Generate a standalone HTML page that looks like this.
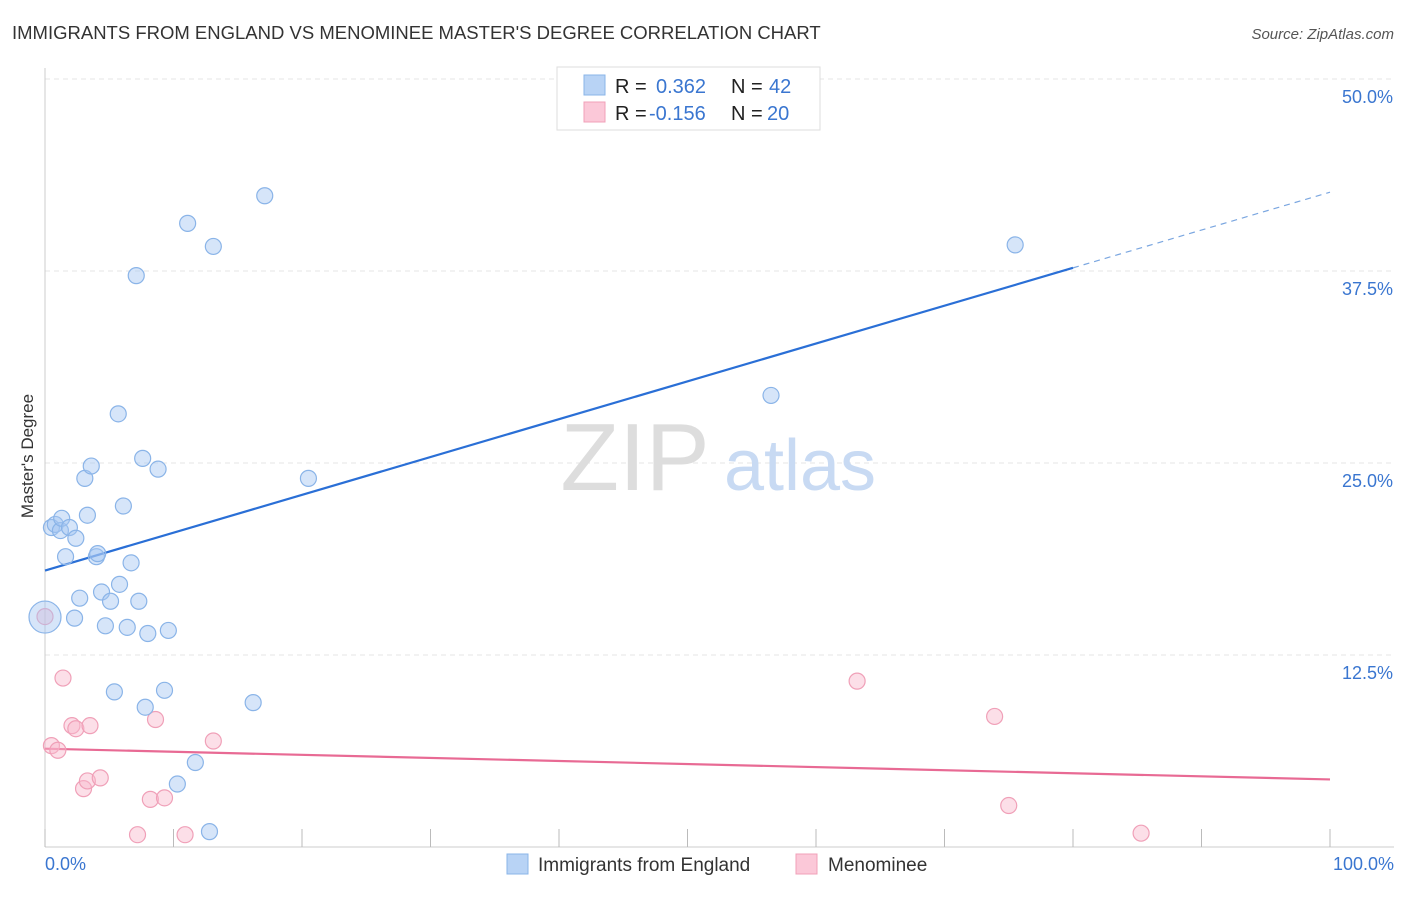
<!DOCTYPE html>
<html><head><meta charset="utf-8"><style>
body{margin:0;background:#fff;font-family:"Liberation Sans",sans-serif;}
svg text{font-family:"Liberation Sans",sans-serif;}
</style></head><body>
<svg id="chart" width="1406" height="892">
<text x="12" y="39" font-size="18.5" fill="#333">IMMIGRANTS FROM ENGLAND VS MENOMINEE MASTER'S DEGREE CORRELATION CHART</text>
<text x="1394" y="39" font-size="15" fill="#555" font-style="italic" text-anchor="end">Source: ZipAtlas.com</text>
<text transform="translate(33,456) rotate(-90)" font-size="17" fill="#333" text-anchor="middle">Master's Degree</text>
<g id="grid"></g>
<text x="635" y="490" font-size="96" fill="#ddd" font-family="Liberation Serif" text-anchor="middle">ZIP</text>
<text x="800" y="490" font-size="72" fill="#c8daf3" text-anchor="middle">atlas</text>
<g id="trend"></g>
<g id="points"></g>
<g>
<rect x="557" y="67" width="263" height="63" fill="#fff" stroke="#ddd"/>
<rect x="584" y="75" width="21" height="20" fill="#b8d3f5" stroke="#8ab4e8"/>
<rect x="584" y="102" width="21" height="20" fill="#fbc8d8" stroke="#f0a0b8"/>
<text x="615" y="93" font-size="20" fill="#222">R =</text>
<text x="656" y="93" font-size="20" fill="#3a76d0">0.362</text>
<text x="731" y="93" font-size="20" fill="#222">N =</text>
<text x="769" y="93" font-size="20" fill="#3a76d0">42</text>
<text x="615" y="120" font-size="20" fill="#222">R =</text>
<text x="649" y="120" font-size="20" fill="#3a76d0">-0.156</text>
<text x="731" y="120" font-size="20" fill="#222">N =</text>
<text x="767" y="120" font-size="20" fill="#3a76d0">20</text>
</g>
<g>
<rect x="507" y="854" width="21" height="20" fill="#b8d3f5" stroke="#8ab4e8"/>
<text x="538" y="871" font-size="19" fill="#333">Immigrants from England</text>
<rect x="796" y="854" width="21" height="20" fill="#fbc8d8" stroke="#f0a0b8"/>
<text x="828" y="871" font-size="19" fill="#333">Menominee</text>
</g>
<text x="45" y="870" font-size="18" fill="#3a76d0">0.0%</text>
<text x="1394" y="870" font-size="18" fill="#3a76d0" text-anchor="end">100.0%</text>
</svg>
<script>
const yTicks=[12.5,25,37.5,50];
const yTickLabels=["12.5%","25.0%","37.5%","50.0%"];
const xTicks=[0,10,20,30,40,50,60,70,80,90,100];
const blueX=[0,0.5,0.8,1.2,1.3,1.9,1.6,2.4,3.1,3.3,3.6,2.3,2.7,4.0,4.1,4.4,4.7,5.1,5.4,5.7,5.8,6.1,6.4,6.7,7.1,7.3,7.6,7.8,8.0,8.8,9.3,9.6,10.3,11.1,11.7,12.8,13.1,16.2,17.1,20.5,56.5,75.5];
const blueY=[14.97,20.8,21.0,20.6,21.4,20.8,18.9,20.1,24.0,21.6,24.8,14.9,16.2,18.9,19.1,16.6,14.4,16.0,10.1,28.2,17.1,22.2,14.3,18.5,37.2,16.0,25.3,9.1,13.9,24.6,10.2,14.1,4.1,40.6,5.5,1.0,39.1,9.4,42.4,24.0,29.4,39.2];
const pinkX=[0,0.5,1.0,1.4,2.1,2.4,3.0,3.3,3.5,4.3,7.2,8.2,8.6,9.3,10.9,13.1,63.2,73.9,75.0,85.3];
const pinkY=[15.0,6.6,6.3,11.0,7.9,7.7,3.8,4.3,7.9,4.5,0.8,3.1,8.3,3.2,0.8,6.9,10.8,8.5,2.7,0.9];
const blueTrend=[18.0,0.2463];
const pinkTrend=[6.4,-0.02];
const X=v=>45+v*12.85, Y=v=>847-v*15.36;
const NS="http://www.w3.org/2000/svg";
function mk(tag,attrs,parent){const e=document.createElementNS(NS,tag);for(const k in attrs)e.setAttribute(k,attrs[k]);parent.appendChild(e);return e;}
const grid=document.getElementById('grid');
yTicks.forEach((t,i)=>{
 const l=mk('line',{x1:45,x2:1394,y1:Y(t),y2:Y(t),stroke:'#e4e4e4','stroke-dasharray':'5,4'},grid);
 
 
 const tx=mk('text',{x:1393,y:Y(t)+24,'font-size':18,fill:'#3a76d0','text-anchor':'end'},grid);
 tx.textContent=yTickLabels[i];
 
 
});
const ax=mk('line',{x1:45,x2:45,y1:68,y2:847,stroke:'#ccc'},grid);


const bx=mk('line',{x1:45,x2:1394,y1:847,y2:847,stroke:'#ccc'},grid);


xTicks.forEach(t=>{
 const l=mk('line',{x1:X(t),x2:X(t),y1:829,y2:847,stroke:'#bbb'},grid);
 
 
});
const tr=document.getElementById('trend');
let l1=mk('line',{x1:X(0),y1:Y(blueTrend[0]),x2:X(80),y2:Y(blueTrend[0]+80*blueTrend[1]),stroke:'#2a6fd6','stroke-width':2.2},tr);


let l2=mk('line',{x1:X(80),y1:Y(blueTrend[0]+80*blueTrend[1]),x2:X(100),y2:Y(blueTrend[0]+100*blueTrend[1]),stroke:'#7aa6e0','stroke-width':1.2,'stroke-dasharray':'6,5'},tr);


let l3=mk('line',{x1:X(0),y1:Y(pinkTrend[0]),x2:X(100),y2:Y(pinkTrend[0]+100*pinkTrend[1]),stroke:'#e86a94','stroke-width':2.2},tr);


const pts=document.getElementById('points');
pinkX.forEach((x,i)=>{
 const c=mk('circle',{cx:X(x),cy:Y(pinkY[i]),r:8,fill:'rgba(248,185,205,0.45)',stroke:'#f0a0b8','stroke-width':1.2},pts);
 
 
});
blueX.forEach((x,i)=>{
 const c=mk('circle',{cx:X(x),cy:Y(blueY[i]),r:i===0?16:8,fill:'rgba(165,198,242,0.45)',stroke:'#8ab4e8','stroke-width':1.2},pts);
 
 
});
</script>
</body></html>
